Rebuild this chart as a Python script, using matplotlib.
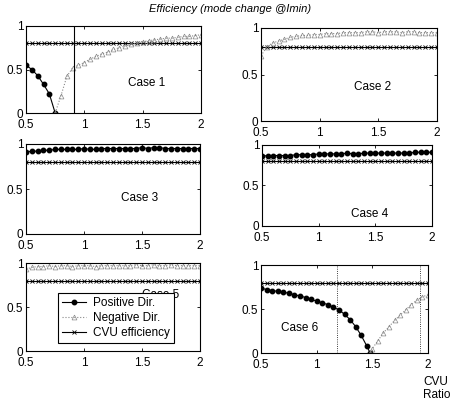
import matplotlib
matplotlib.use("Agg")
import matplotlib.pyplot as plt

plt.rcParams['font.family'] = ['Liberation Sans', 'DejaVu Sans']

ratio = [0.5, 0.55, 0.6, 0.65, 0.7, 0.75, 0.8, 0.85, 0.9, 0.95, 1.0, 1.05, 1.1, 1.15,
         1.2, 1.25, 1.3, 1.35, 1.4, 1.45, 1.5, 1.55, 1.6, 1.65, 1.7, 1.75, 1.8, 1.85,
         1.9, 1.95, 2.0]
cvu_eff = [0.8] * len(ratio)

# Case 1
pos1_x = [0.5, 0.55, 0.6, 0.65, 0.7, 0.75]
pos1 = [0.55, 0.5, 0.43, 0.33, 0.22, 0.0]
neg1_x = ratio[5:]
neg1 = [0.0, 0.2, 0.42, 0.52, 0.55, 0.58, 0.62, 0.65, 0.68, 0.7, 0.73, 0.75, 0.77,
        0.79, 0.8, 0.82, 0.83, 0.84, 0.85, 0.86, 0.86, 0.87, 0.88, 0.88, 0.89, 0.9]
vline1 = [0.91]

# Case 2
neg2 = [0.7, 0.8, 0.84, 0.86, 0.88, 0.9, 0.91, 0.92, 0.92, 0.93, 0.93, 0.94, 0.94,
        0.94, 0.95, 0.95, 0.95, 0.95, 0.96, 0.96, 0.95, 0.96, 0.96, 0.96, 0.95, 0.96,
        0.96, 0.95, 0.95, 0.95, 0.95]

# Case 3
pos3 = [0.91, 0.92, 0.92, 0.93, 0.93, 0.94, 0.94, 0.94, 0.94, 0.94, 0.95, 0.94, 0.94,
        0.95, 0.95, 0.95, 0.95, 0.95, 0.95, 0.95, 0.96, 0.95, 0.96, 0.96, 0.95, 0.95,
        0.95, 0.95, 0.95, 0.95, 0.95]

# Case 4
pos4 = [0.86, 0.87, 0.87, 0.87, 0.87, 0.87, 0.88, 0.88, 0.88, 0.88, 0.89, 0.89, 0.89,
        0.89, 0.89, 0.9, 0.89, 0.89, 0.9, 0.9, 0.9, 0.9, 0.9, 0.9, 0.9, 0.9, 0.9,
        0.91, 0.91, 0.91, 0.91]

# Case 5
neg5 = [0.93, 0.95, 0.96, 0.96, 0.97, 0.96, 0.97, 0.97, 0.96, 0.97, 0.97, 0.97, 0.96,
        0.97, 0.97, 0.97, 0.97, 0.97, 0.97, 0.98, 0.97, 0.97, 0.98, 0.97, 0.97, 0.98,
        0.97, 0.97, 0.97, 0.97, 0.97]

# Case 6
pos6_x = ratio[:20] + [1.48]
pos6 = [0.74, 0.72, 0.71, 0.7, 0.69, 0.68, 0.66, 0.65, 0.63, 0.61, 0.59, 0.57, 0.55,
        0.52, 0.49, 0.44, 0.38, 0.3, 0.2, 0.08, 0.0]
neg6_x = [1.48] + ratio[20:]
neg6 = [0.0, 0.05, 0.14, 0.23, 0.3, 0.37, 0.43, 0.49, 0.55, 0.6, 0.64, 0.66]
vlines6 = [1.18, 1.93]

xticks = [0.5, 1, 1.5, 2]
xticklabels = ['0.5', '1', '1.5', '2']
yticks = [0, 0.5, 1]
yticklabels = ['0', '0.5', '1']

W, H = 458, 400
fig = plt.figure(figsize=(W / 100, H / 100), dpi=100)

# pixel boxes: (left, top, right, bottom)
boxes = [
    (26, 26, 201, 113), (261, 28, 437, 121),
    (26, 144, 200, 234), (262, 145, 432, 226),
    (26, 263, 200, 351), (261, 265, 428, 353),
]
axes = []
for (l, t, r, b) in boxes:
    ax = fig.add_axes([l / W, 1 - b / H, (r - l) / W, (b - t) / H])
    ax.set_xlim(0.5, 2)
    ax.set_ylim(0, 1)
    ax.set_xticks(xticks)
    ax.set_xticklabels(xticklabels)
    ax.set_yticks(yticks)
    ax.set_yticklabels(yticklabels)
    ax.tick_params(direction='in', length=2.5, width=0.6, labelsize=8.5,
                   top=True, right=True)
    ax.tick_params(axis='x', pad=4.5)
    ax.tick_params(axis='y', pad=2)
    for s in ax.spines.values():
        s.set_linewidth(0.8)
    axes.append(ax)

pos_kw = dict(color='black', linestyle='-', linewidth=0.8, marker='o',
              markersize=3.2, markerfacecolor='black')
neg_kw = dict(color='#888888', linestyle=':', linewidth=0.8, marker='^',
              markersize=3.5, markerfacecolor='none', markeredgewidth=0.5)
cvu_kw = dict(color='black', linestyle='-', linewidth=0.8, marker='x',
              markersize=3.0, markeredgewidth=0.6)

# Case 1
ax = axes[0]
ax.plot(ratio, cvu_eff, **cvu_kw)
ax.plot(pos1_x, pos1, **pos_kw)
ax.plot(neg1_x, neg1, **neg_kw)
for v in vline1:
    ax.axvline(v, color='black', linewidth=0.8)
ax.text(1.53, 0.35, 'Case 1', fontsize=8.5, ha='center', va='center')

# Case 2
ax = axes[1]
ax.plot(ratio, cvu_eff, **cvu_kw)
ax.plot(ratio, neg2, **neg_kw)
ax.text(1.45, 0.37, 'Case 2', fontsize=8.5, ha='center', va='center')

# Case 3
ax = axes[2]
ax.plot(ratio, cvu_eff, **cvu_kw)
ax.plot(ratio, pos3, **pos_kw)
ax.text(1.48, 0.4, 'Case 3', fontsize=8.5, ha='center', va='center')

# Case 4
ax = axes[3]
ax.plot(ratio, cvu_eff, **cvu_kw)
ax.plot(ratio, pos4, **pos_kw)
ax.text(1.45, 0.15, 'Case 4', fontsize=8.5, ha='center', va='center')

# Case 5
ax = axes[4]
l_pos, = ax.plot([], [], **pos_kw)
l_neg, = ax.plot(ratio, neg5, **neg_kw)
l_cvu, = ax.plot(ratio, cvu_eff, **cvu_kw)
ax.text(1.66, 0.64, 'Case 5', fontsize=8.5, ha='center', va='center')
leg = ax.legend([l_pos, l_neg, l_cvu], ['Positive Dir.', 'Negative Dir.', 'CVU efficiency'],
                loc='lower left', bbox_to_anchor=(0.15, 0.02), fontsize=8.5,
                frameon=True, fancybox=False, edgecolor='black', framealpha=1,
                handlelength=2.0, borderpad=0.35, labelspacing=0.25, handletextpad=0.6)
leg.get_frame().set_linewidth(0.8)

# Case 6
ax = axes[5]
ax.plot(ratio, cvu_eff, **cvu_kw)
ax.plot(pos6_x, pos6, **pos_kw)
ax.plot(neg6_x, neg6, **neg_kw)
for v in vlines6:
    ax.axvline(v, color='black', linewidth=0.6, linestyle=':')
ax.text(0.85, 0.28, 'Case 6', fontsize=8.5, ha='center', va='center')
ax.text(1.955, -0.26, 'CVU\nRatio', fontsize=8.5, ha='left', va='top',
        linespacing=1.1, transform=ax.transData, clip_on=False)

fig.text(230 / W, 1 - 9 / H, 'Efficiency (mode change @Imin)', fontsize=8,
         style='italic', ha='center', va='center')

fig.savefig('out.png', dpi=100)
